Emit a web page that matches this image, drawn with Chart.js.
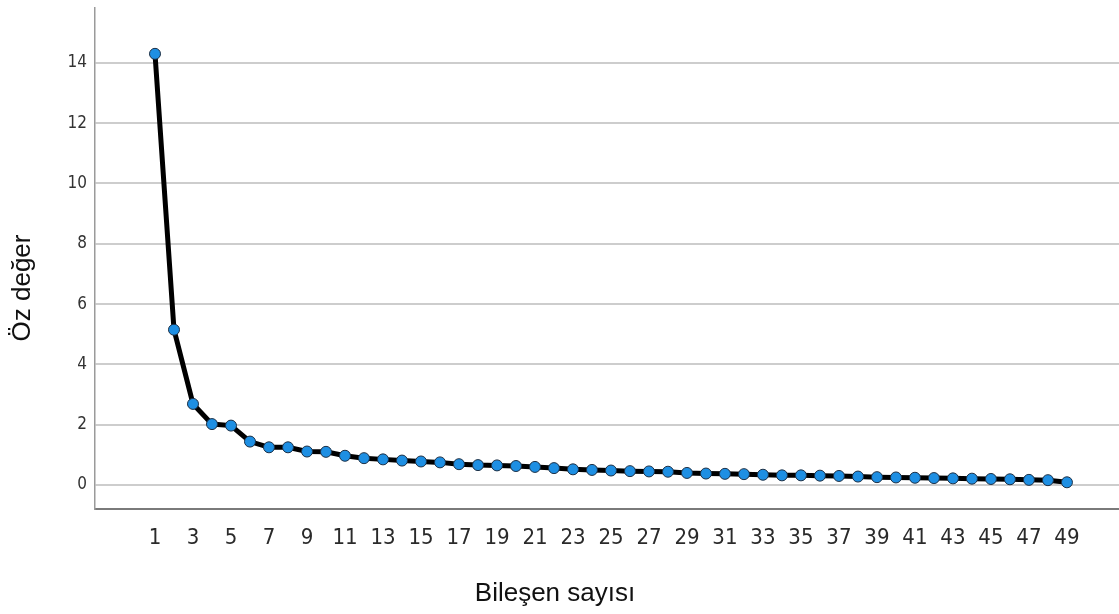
<!DOCTYPE html>
<html>
<head>
<meta charset="utf-8">
<script src="https://cdn.jsdelivr.net/npm/chart.js@4"></script>
<style>
    html, body { margin: 0; padding: 0; background: #ffffff; }
    #screeChart { display: block; }
</style>
</head>
<body>
<canvas id="screeChart" width="1119" height="614"></canvas>
<script>
// Component numbers and their eigenvalues
const components = [
    1, 2, 3, 4, 5, 6, 7, 8, 9, 10, 11, 12, 13, 14, 15, 16, 17, 18, 19, 20,
    21, 22, 23, 24, 25, 26, 27, 28, 29, 30, 31, 32, 33, 34, 35, 36, 37, 38, 39, 40,
    41, 42, 43, 44, 45, 46, 47, 48, 49
];
const eigenvalues = [
    14.3, 5.15, 2.69, 2.02, 1.97, 1.44, 1.25, 1.25, 1.11, 1.10,
    0.97, 0.89, 0.85, 0.81, 0.78, 0.75, 0.69, 0.66, 0.65, 0.63,
    0.60, 0.56, 0.52, 0.50, 0.48, 0.46, 0.45, 0.44, 0.40, 0.38,
    0.37, 0.36, 0.34, 0.32, 0.32, 0.31, 0.30, 0.28, 0.26, 0.25,
    0.24, 0.23, 0.22, 0.21, 0.20, 0.19, 0.17, 0.16, 0.09
];
// Tick labels
const xTickValues = [1, 3, 5, 7, 9, 11, 13, 15, 17, 19, 21, 23, 25, 27, 29, 31, 33, 35, 37, 39, 41, 43, 45, 47, 49];
const yTickValues = [0, 2, 4, 6, 8, 10, 12, 14];
const xTitle = 'Bileşen sayısı';
const yTitle = 'Öz değer';

const narrowFont = '"Liberation Sans Narrow", "Arial Narrow", "DejaVu Sans Condensed", "Liberation Sans", sans-serif';

// Draw the axis titles where SPSS puts them
const axisTitles = {
    id: 'axisTitles',
    afterDraw(chart) {
        const ctx = chart.ctx;
        ctx.save();
        ctx.fillStyle = '#111111';
        ctx.font = '26px "Liberation Sans", Arial, sans-serif';
        ctx.textAlign = 'center';
        ctx.textBaseline = 'middle';
        ctx.fillText(xTitle, 555, 594);
        ctx.translate(23, 288);
        ctx.rotate(-Math.PI / 2);
        ctx.fillText(yTitle, 0, 0);
        ctx.restore();
    }
};

document.addEventListener("DOMContentLoaded", function () {
    const ctx = document.getElementById('screeChart').getContext('2d');
    const points = components.map((c, i) => ({ x: c, y: eigenvalues[i] }));

    new Chart(ctx, {
        type: 'line',
        data: {
            datasets: [{
                data: points,
                borderColor: '#000000',
                borderWidth: 5,
                backgroundColor: '#1e8fe3',
                pointBackgroundColor: '#1e8fe3',
                pointBorderColor: '#1b2f45',
                pointBorderWidth: 1,
                pointRadius: 5.5,
                tension: 0
            }]
        },
        options: {
            responsive: false,
            animation: false,
            devicePixelRatio: 1,
            layout: { autoPadding: false, padding: { top: 8, right: 0, left: 0, bottom: 0 } },
            plugins: {
                legend: { display: false },
                tooltip: { enabled: false }
            },
            scales: {
                x: {
                    type: 'linear',
                    min: -2.158,
                    max: 51.74,
                    afterBuildTicks: (axis) => {
                        axis.ticks = xTickValues.map(v => ({ value: v }));
                    },
                    afterFit: (axis) => {
                        axis.height = 105;
                        axis.paddingLeft = 0;
                        axis.paddingRight = 0;
                    },
                    grid: { display: false, drawTicks: false },
                    border: { display: true, color: '#7a7a7a', width: 2 },
                    ticks: {
                        autoSkip: false,
                        maxRotation: 0,
                        padding: 16,
                        color: '#2a2a2a',
                        font: { family: narrowFont, size: 22 }
                    }
                },
                y: {
                    min: -0.796,
                    max: 15.82,
                    afterBuildTicks: (axis) => {
                        axis.ticks = yTickValues.map(v => ({ value: v }));
                    },
                    afterFit: (axis) => {
                        axis.width = 95;
                        axis.paddingTop = 0;
                        axis.paddingBottom = 0;
                    },
                    grid: { color: '#cdcdcd', lineWidth: 2, drawTicks: false },
                    border: { display: true, color: '#9a9a9a', width: 1.5 },
                    ticks: {
                        padding: 8,
                        color: '#333333',
                        font: { family: narrowFont, size: 17 }
                    }
                }
            }
        },
        plugins: [axisTitles]
    });
});
</script>
</body>
</html>
